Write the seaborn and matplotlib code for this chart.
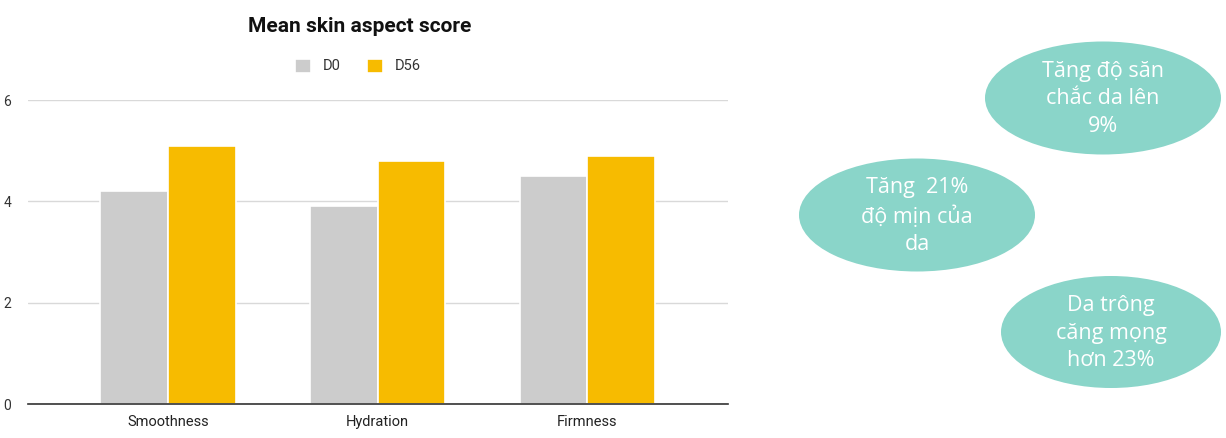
import matplotlib
matplotlib.use("Agg")
import matplotlib.pyplot as plt
from matplotlib.patches import Ellipse
import seaborn as sns
import pandas as pd

categories = ["Smoothness", "Hydration", "Firmness"]
d0_scores = [4.2, 3.9, 4.5]
d56_scores = [5.1, 4.8, 4.9]
series_names = ["D0", "D56"]
y_ticks = [0, 2, 4, 6]

callouts = [
    "Tăng độ săn\nchắc da lên\n9%",
    "Tăng  21%\nđộ mịn của\nda",
    "Da trông\ncăng mọng\nhơn 23%",
]

df = pd.DataFrame({
    "Aspect": categories * 2,
    "Day": [series_names[0]] * 3 + [series_names[1]] * 3,
    "Score": d0_scores + d56_scores,
})

sns.set_theme(style="white")
plt.rcParams["font.family"] = ["Roboto", "DejaVu Sans"]

W, H = 1226, 438
fig = plt.figure(figsize=(W / 100, H / 100), dpi=100)
fig.patch.set_facecolor("white")

ax = fig.add_axes([28 / W, 1 - 404 / H, 700 / W, 304 / H])
sns.barplot(data=df, x="Aspect", y="Score", hue="Day",
            palette={"D0": "#CCCCCC", "D56": "#F7BB00"},
            width=0.645, edgecolor="white", linewidth=1.2,
            saturation=1, ax=ax, zorder=3)

ax.set_xlim(-0.668, 2.672)
ax.set_ylim(0, 6)
ax.set_yticks(y_ticks)
ax.set_yticklabels([str(t) for t in y_ticks], fontsize=10, color="#333333")
ax.yaxis.grid(True, color="#D9D9D9", linewidth=1, zorder=0)
ax.set_axisbelow(True)
for s in ["top", "right", "left"]:
    ax.spines[s].set_visible(False)
ax.spines["bottom"].set_color("#333333")
ax.spines["bottom"].set_linewidth(1.2)
ax.spines["bottom"].set_zorder(5)
ax.tick_params(axis="y", length=0, pad=12)
ax.tick_params(axis="x", length=0, pad=8, labelsize=10.5, labelcolor="#222222")
ax.set_xlabel("")
ax.set_ylabel("")

handles, labels = ax.get_legend_handles_labels()
ax.get_legend().remove()
fig.legend(handles, labels, loc="center", bbox_to_anchor=(358 / W, 1 - 66 / H),
           ncol=2, frameon=False, fontsize=10.5, handlelength=1.1, handleheight=1.1,
           handletextpad=0.8, columnspacing=1.8, labelcolor="#333333")

fig.text(360 / W, 1 - 27 / H, "Mean skin aspect score", ha="center", va="center",
         fontsize=15, fontweight="bold", color="#111111")

# Callout bubbles on the right, in pixel coordinates
ov = fig.add_axes([0, 0, 1, 1], zorder=10)
ov.set_xlim(0, W)
ov.set_ylim(H, 0)
ov.axis("off")
ov.patch.set_alpha(0)

bubbles = [
    (1103, 98, 236, 113),
    (917, 215, 236, 113),
    (1111, 332, 220, 112),
]
for (cx, cy, w, h), txt in zip(bubbles, callouts):
    ov.add_patch(Ellipse((cx, cy), w, h, facecolor="#8AD5C9", edgecolor="none"))
    ov.text(cx, cy + 1, txt, ha="center", va="center", color="white",
            fontsize=15.5, linespacing=1.38, family=["Open Sans", "DejaVu Sans"])

fig.savefig("out.png", dpi=100, facecolor="white")
